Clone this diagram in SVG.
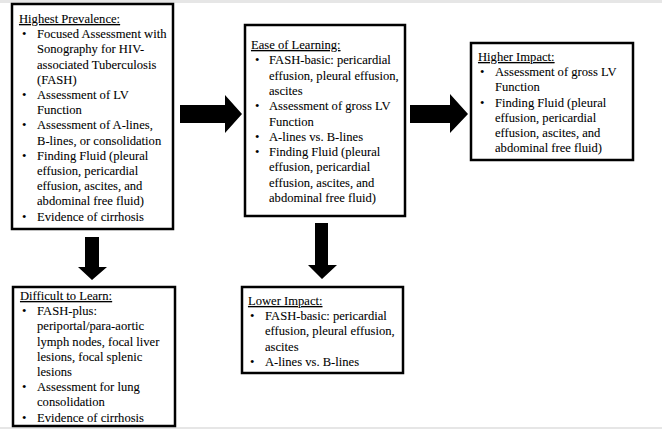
<svg xmlns="http://www.w3.org/2000/svg" width="662" height="429" viewBox="0 0 662 429">
<style>
.box{fill:#fff;stroke:#000;stroke-width:2.5}
text{font-family:"Liberation Serif","Times New Roman",serif;font-size:12.6px;fill:#000;stroke:#000;stroke-width:0.08}
.h{text-decoration:underline}
.arr{fill:#000}
</style>
<rect x="0" y="0" width="662" height="429" fill="#fff"/>
<rect x="0" y="0" width="662" height="3" fill="#e6e6e6"/>
<rect x="0" y="427" width="662" height="2" fill="#e6e6e6"/>
<g id="connectors">
<polygon class="arr" points="180,105 225,105 225,95 242,114 225,133 225,123 180,123"/>
<polygon class="arr" points="410,105 450,105 450,94 468,114 450,133 450,123 410,123"/>
<polygon class="arr" points="85,237 99,237 99,267 107,267 92,280 78,267 85,267"/>
<polygon class="arr" points="315,223 328,223 328,265 337,265 322,279 308,265 315,265"/>
</g>
<g id="highest-prevalence">
<rect class="box" x="12" y="4" width="161" height="225"/>
<text x="19" y="23" class="h">Highest Prevalence:</text>
<text x="22" y="38.2">•</text><text x="37" y="38.2">Focused Assessment with</text>
<text x="37" y="53.4">Sonography for HIV-</text>
<text x="37" y="68.6">associated Tuberculosis</text>
<text x="37" y="83.8">(FASH)</text>
<text x="22" y="99">•</text><text x="37" y="99">Assessment of LV</text>
<text x="37" y="114.2">Function</text>
<text x="22" y="129.4">•</text><text x="37" y="129.4">Assessment of A-lines,</text>
<text x="37" y="144.6">B-lines, or consolidation</text>
<text x="22" y="159.8">•</text><text x="37" y="159.8">Finding Fluid (pleural</text>
<text x="37" y="175">effusion, pericardial</text>
<text x="37" y="190.2">effusion, ascites, and</text>
<text x="37" y="205.4">abdominal free fluid)</text>
<text x="22" y="220.6">•</text><text x="37" y="220.6">Evidence of cirrhosis</text>
</g>
<g id="ease-of-learning">
<rect class="box" x="245" y="25" width="160" height="191"/>
<text x="251" y="49" class="h">Ease of Learning:</text>
<text x="255" y="64.3">•</text><text x="269" y="64.3">FASH-basic: pericardial</text>
<text x="269" y="79.6">effusion, pleural effusion,</text>
<text x="269" y="94.9">ascites</text>
<text x="255" y="110.2">•</text><text x="269" y="110.2">Assessment of gross LV</text>
<text x="269" y="125.5">Function</text>
<text x="255" y="140.8">•</text><text x="269" y="140.8">A-lines vs. B-lines</text>
<text x="255" y="156.1">•</text><text x="269" y="156.1">Finding Fluid (pleural</text>
<text x="269" y="171.4">effusion, pericardial</text>
<text x="269" y="186.7">effusion, ascites, and</text>
<text x="269" y="202">abdominal free fluid)</text>
</g>
<g id="higher-impact">
<rect class="box" x="471" y="43" width="162" height="117"/>
<text x="478" y="61" class="h">Higher Impact:</text>
<text x="480" y="76.2">•</text><text x="495" y="76.2">Assessment of gross LV</text>
<text x="495" y="91.4">Function</text>
<text x="480" y="106.6">•</text><text x="495" y="106.6">Finding Fluid (pleural</text>
<text x="495" y="121.8">effusion, pericardial</text>
<text x="495" y="137">effusion, ascites, and</text>
<text x="495" y="152.2">abdominal free fluid)</text>
</g>
<g id="difficult-to-learn">
<rect class="box" x="13" y="287" width="162" height="139"/>
<text x="20" y="300" class="h">Difficult to Learn:</text>
<text x="22" y="315.2">•</text><text x="37" y="315.2">FASH-plus:</text>
<text x="37" y="330.4">periportal/para-aortic</text>
<text x="37" y="345.6">lymph nodes, focal liver</text>
<text x="37" y="360.8">lesions, focal splenic</text>
<text x="37" y="376">lesions</text>
<text x="22" y="391.2">•</text><text x="37" y="391.2">Assessment for lung</text>
<text x="37" y="406.4">consolidation</text>
<text x="22" y="421.6">•</text><text x="37" y="421.6">Evidence of cirrhosis</text>
</g>
<g id="lower-impact">
<rect class="box" x="242" y="287" width="161" height="86"/>
<text x="248" y="305" class="h">Lower Impact:</text>
<text x="250" y="320.2">•</text><text x="265" y="320.2">FASH-basic: pericardial</text>
<text x="265" y="335.4">effusion, pleural effusion,</text>
<text x="265" y="350.6">ascites</text>
<text x="250" y="365.8">•</text><text x="265" y="365.8">A-lines vs. B-lines</text>
</g>
</svg>
